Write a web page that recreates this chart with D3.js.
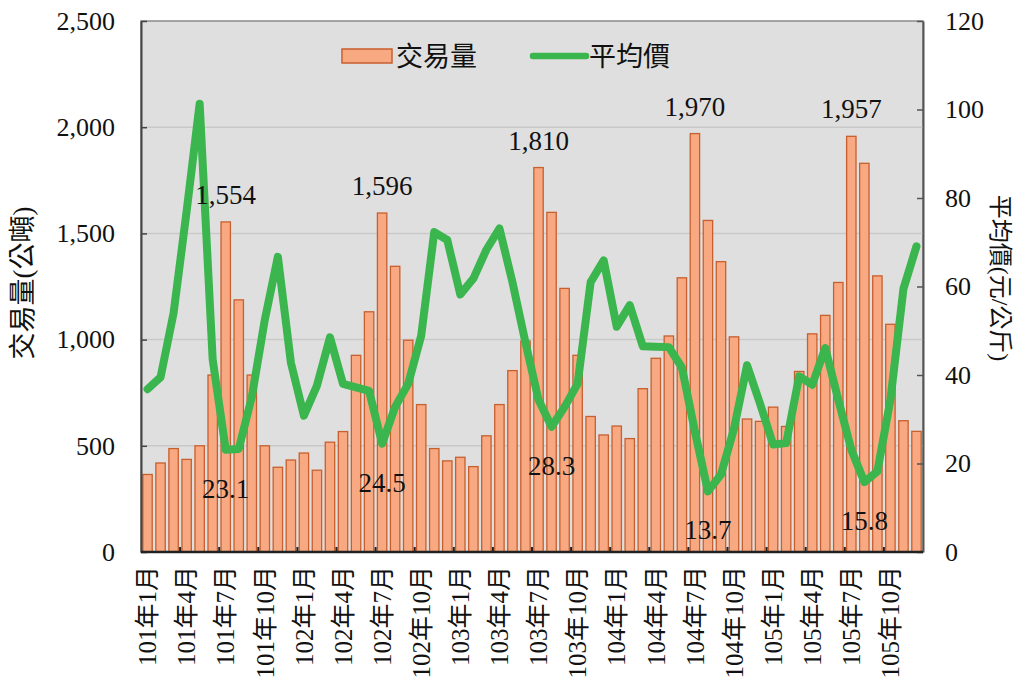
<!DOCTYPE html>
<html>
<head>
<meta charset="utf-8">
<script src="https://cdn.jsdelivr.net/npm/d3@7/dist/d3.min.js"></script>
<style>
  body { margin: 0; background: #fff; }
  svg text { font-family: "Liberation Serif", "Noto Sans CJK TC", serif; fill: #111; }
</style>
</head>
<body>
<div id="chart"></div>
<script>
'use strict';

// Months 101/1 .. 105/12
var years  = ['101', '102', '103', '104', '105'];
var months = ['1', '2', '3', '4', '5', '6', '7', '8', '9', '10', '11', '12'];
var categories = [];
years.forEach(function(y) {
  months.forEach(function(m) { categories.push(y + '年' + m + '月'); });
});

// 交易量 (公噸)
var volume = [
  365, 419, 487, 436, 500, 833, 1554, 1187, 833, 500, 399, 433,
  466, 385, 517, 567, 926, 1131, 1596, 1345, 997, 694, 487, 429,
  446, 402, 547, 694, 854, 993, 1810, 1599, 1241, 926, 638, 551,
  593, 534, 769, 912, 1017, 1291, 1970, 1561, 1367, 1013, 626, 615,
  682, 591, 850, 1027, 1114, 1269, 1957, 1830, 1300, 1072, 618, 568
];

// 平均價 (元/公斤)
var price = [
  36.8, 39.5, 54.0, 77.0, 101.3, 43.5, 23.1, 23.3, 35.0, 52.5, 66.7, 42.8,
  30.8, 37.6, 48.5, 38.0, 37.2, 36.4, 24.5, 32.8, 38.0, 48.9, 72.3, 70.5,
  58.2, 61.8, 68.3, 73.1, 61.0, 47.3, 34.4, 28.3, 32.8, 38.0, 61.0, 65.9,
  50.9, 55.8, 46.5, 46.4, 46.3, 41.7, 27.2, 13.7, 17.5, 27.9, 42.2, 33.5,
  24.3, 24.6, 39.7, 37.8, 46.1, 34.4, 23.1, 15.8, 18.2, 34.4, 59.5, 69.1
];

var leftTicks  = [0, 500, 1000, 1500, 2000, 2500];
var rightTicks = [0, 20, 40, 60, 80, 100, 120];

// which points get a number written next to them
var volumeLabelIdx = [6, 18, 30, 42, 54];
var priceLabelIdx  = [6, 18, 31, 43, 55];

var W = 1025, H = 691;
var plot = { left: 141, right: 923, top: 21, bottom: 552 };

var svg = d3.select('#chart').append('svg')
  .attr('width', W).attr('height', H);

var x = d3.scaleBand()
  .domain(categories)
  .range([plot.left, plot.right])
  .paddingInner(0.28)
  .paddingOuter(0.14);

var yL = d3.scaleLinear().domain([0, 2500]).range([plot.bottom, plot.top]);
var yR = d3.scaleLinear().domain([0, 120]).range([plot.bottom, plot.top]);

// plot background + grid
svg.append('rect')
  .attr('x', plot.left).attr('y', plot.top)
  .attr('width', plot.right - plot.left)
  .attr('height', plot.bottom - plot.top)
  .attr('fill', '#dfdfdf')
  .attr('stroke', '#8a8a8a')
  .attr('stroke-width', 1.5);

svg.append('g').selectAll('line')
  .data(leftTicks.slice(1, -1))
  .enter().append('line')
  .attr('x1', plot.left).attr('x2', plot.right)
  .attr('y1', function(d) { return yL(d); })
  .attr('y2', function(d) { return yL(d); })
  .attr('stroke', '#c9c9c9')
  .attr('stroke-width', 1.5);

// bars
svg.append('g').selectAll('rect')
  .data(volume)
  .enter().append('rect')
  .attr('x', function(d, i) { return x(categories[i]); })
  .attr('y', function(d) { return yL(d); })
  .attr('width', x.bandwidth())
  .attr('height', function(d) { return yL(0) - yL(d); })
  .attr('fill', '#f8a982')
  .attr('stroke', '#c85f2e')
  .attr('stroke-width', 1.3);

// price line
var line = d3.line()
  .x(function(d, i) { return x(categories[i]) + x.bandwidth() / 2; })
  .y(function(d) { return yR(d); });

svg.append('path')
  .datum(price)
  .attr('d', line)
  .attr('fill', 'none')
  .attr('stroke', '#3bb54d')
  .attr('stroke-width', 8)
  .attr('stroke-linejoin', 'round')
  .attr('stroke-linecap', 'round');

// left axis
var gL = svg.append('g')
  .attr('transform', 'translate(' + plot.left + ',0)')
  .call(d3.axisLeft(yL).tickValues(leftTicks).tickFormat(d3.format(','))
    .tickSizeInner(-6).tickSizeOuter(0).tickPadding(26));
gL.select('.domain').attr('stroke', '#444').attr('stroke-width', 2);
gL.selectAll('.tick line').attr('stroke', '#444').attr('stroke-width', 1.5);
gL.selectAll('text').style('font-size', '26px').attr('fill', '#111');

// right axis
var gR = svg.append('g')
  .attr('transform', 'translate(' + plot.right + ',0)')
  .call(d3.axisRight(yR).tickValues(rightTicks)
    .tickSizeInner(-6).tickSizeOuter(0).tickPadding(22));
gR.select('.domain').attr('stroke', '#555').attr('stroke-width', 2);
gR.selectAll('.tick line').attr('stroke', '#555').attr('stroke-width', 1.5);
gR.selectAll('text').style('font-size', '26px').attr('fill', '#111');

// bottom axis: ticks every third month on the slot boundary
var step = x.step();
var offset = (step - x.bandwidth()) / 2;
var gB = svg.append('g');
gB.append('line')
  .attr('x1', plot.left).attr('x2', plot.right)
  .attr('y1', plot.bottom).attr('y2', plot.bottom)
  .attr('stroke', '#222').attr('stroke-width', 2.5);

gB.selectAll('line.tick')
  .data(categories.filter(function(c, i) { return i % 3 === 0 && i > 0; }))
  .enter().append('line')
  .attr('class', 'tick')
  .attr('x1', function(d) { return x(d) - offset; })
  .attr('x2', function(d) { return x(d) - offset; })
  .attr('y1', plot.bottom).attr('y2', plot.bottom - 5)
  .attr('stroke', '#222').attr('stroke-width', 2);

gB.selectAll('text')
  .data(categories.filter(function(c, i) { return i % 3 === 0; }))
  .enter().append('text')
  .attr('transform', function(d) {
    return 'translate(' + (x(d) + x.bandwidth() / 2) + ',' + (plot.bottom + 14) + ') rotate(-90)';
  })
  .attr('dy', '0.35em')
  .attr('text-anchor', 'end')
  .style('font-size', '25px')
  .text(function(d) { return d; });

// value labels
svg.append('g').selectAll('text')
  .data(volumeLabelIdx)
  .enter().append('text')
  .attr('x', function(i) { return x(categories[i]) + x.bandwidth() / 2; })
  .attr('y', function(i) { return yL(volume[i]) - 18; })
  .attr('text-anchor', 'middle')
  .style('font-size', '27px')
  .text(function(i) { return d3.format(',')(volume[i]); });

svg.append('g').selectAll('text')
  .data(priceLabelIdx)
  .enter().append('text')
  .attr('x', function(i) { return x(categories[i]) + x.bandwidth() / 2; })
  .attr('y', function(i) { return yR(price[i]) + 48; })
  .attr('text-anchor', 'middle')
  .style('font-size', '27px')
  .text(function(i) { return price[i].toFixed(1); });

// axis titles
svg.append('text')
  .attr('transform', 'translate(23,283) rotate(-90)')
  .attr('text-anchor', 'middle')
  .attr('dy', '0.35em')
  .style('font-size', '27px')
  .text('交易量(公噸)');

svg.append('text')
  .attr('transform', 'translate(1000,278) rotate(90)')
  .attr('text-anchor', 'middle')
  .attr('dy', '0.35em')
  .style('font-size', '24px')
  .text('平均價(元/公斤)');

// legend
var legend = svg.append('g');
legend.append('rect')
  .attr('x', 342).attr('y', 49).attr('width', 50).attr('height', 14)
  .attr('fill', '#f8a982').attr('stroke', '#c85f2e').attr('stroke-width', 1.5);
legend.append('text')
  .attr('x', 396).attr('y', 66)
  .style('font-size', '27px')
  .text('交易量');
legend.append('line')
  .attr('x1', 533).attr('x2', 586).attr('y1', 56).attr('y2', 56)
  .attr('stroke', '#3bb54d').attr('stroke-width', 6.5).attr('stroke-linecap', 'round');
legend.append('text')
  .attr('x', 589).attr('y', 66)
  .style('font-size', '27px')
  .text('平均價');
</script>
</body>
</html>
